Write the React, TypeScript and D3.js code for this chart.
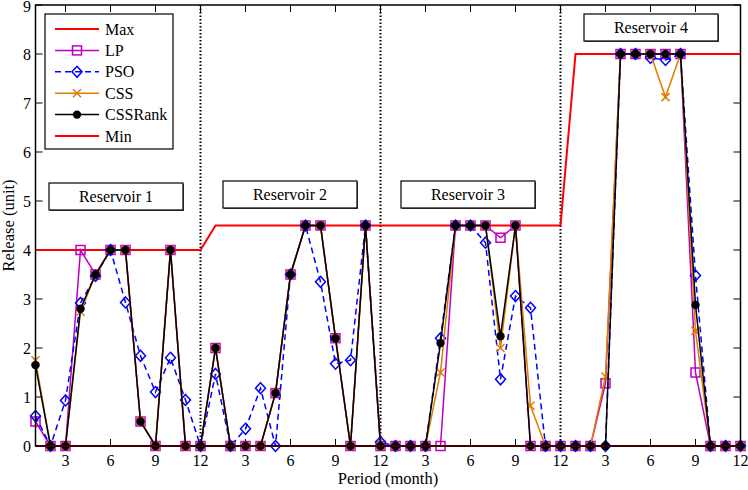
import React from 'react';
import * as d3 from 'd3';

// Four reservoirs x 12 months, plotted end to end
const periods = d3.range(1, 49);
const monthLabels = ['3', '6', '9', '12'];

const maxRelease = [
  4, 4, 4, 4, 4, 4, 4, 4, 4, 4, 4, 4,
  4.5, 4.5, 4.5, 4.5, 4.5, 4.5, 4.5, 4.5, 4.5, 4.5, 4.5, 4.5,
  4.5, 4.5, 4.5, 4.5, 4.5, 4.5, 4.5, 4.5, 4.5, 4.5, 4.5, 4.5,
  8, 8, 8, 8, 8, 8, 8, 8, 8, 8, 8, 8,
];
const minRelease = periods.map(() => 0);

const lp = [
  0.5, 0, 0, 4, 3.5, 4, 4, 0.5, 0, 4, 0, 0,
  2, 0, 0, 0, 1.08, 3.5, 4.5, 4.5, 2.2, 0, 4.5, 0,
  0, 0, 0, 0, 4.5, 4.5, 4.5, 4.25, 4.5, 0, 0, 0,
  0, 0, 1.28, 8, 8, 8, 8, 8, 1.5, 0, 0, 0,
];
const pso = [
  0.61, 0, 0.93, 2.92, 3.47, 4, 2.93, 1.84, 1.1, 1.8, 0.94, 0,
  1.47, 0, 0.35, 1.18, 0, 3.5, 4.5, 3.35, 1.68, 1.75, 4.5, 0.08,
  0, 0, 0, 2.2, 4.5, 4.5, 4.15, 1.36, 3.06, 2.82, 0, 0,
  0, 0, 0, 8, 8, 7.92, 7.88, 8, 3.48, 0, 0, 0,
];
const css = [
  1.75, 0, 0, 2.74, 3.5, 4, 4, 0.52, 0, 4, 0, 0,
  2, 0, 0, 0, 1.08, 3.5, 4.5, 4.5, 2.2, 0, 4.5, 0,
  0, 0, 0, 1.5, 4.5, 4.5, 4.5, 2.0, 4.5, 0.82, 0, 0,
  0, 0, 1.42, 8, 8, 8, 7.12, 8, 2.35, 0, 0, 0,
];
const cssRank = [
  1.65, 0, 0, 2.8, 3.5, 4, 4, 0.5, 0, 4, 0, 0,
  2, 0, 0, 0, 1.08, 3.5, 4.5, 4.5, 2.2, 0, 4.5, 0,
  0, 0, 0, 2.1, 4.5, 4.5, 4.5, 2.24, 4.5, 0, 0, 0,
  0, 0, 0, 8, 8, 8, 8, 8, 2.88, 0, 0, 0,
];

const reservoirNames = ['Reservoir 1', 'Reservoir 2', 'Reservoir 3', 'Reservoir 4'];
const yTicks = d3.range(0, 10);

const W = 748;
const H = 490;
const FONT = "'Times New Roman', 'Liberation Serif', Tinos, Times, serif";

const x = d3.scaleLinear().domain([1, 48]).range([35.5, 740.5]);
const y = d3.scaleLinear().domain([0, 9]).range([446, 5]);

type Marker = 'none' | 'square' | 'diamond' | 'cross' | 'dot';

interface Series {
  name: string;
  values: number[];
  color: string;
  width: number;
  dash?: string;
  marker: Marker;
}

const series: Series[] = [
  { name: 'Max', values: maxRelease, color: '#ff0000', width: 2, marker: 'none' },
  { name: 'LP', values: lp, color: '#c000c0', width: 1.5, marker: 'square' },
  { name: 'PSO', values: pso, color: '#0000ff', width: 1.5, dash: '6 4', marker: 'diamond' },
  { name: 'CSS', values: css, color: '#e07c00', width: 1.5, marker: 'cross' },
  { name: 'CSSRank', values: cssRank, color: '#000000', width: 1.5, marker: 'dot' },
  { name: 'Min', values: minRelease, color: '#ff0000', width: 2, marker: 'none' },
];

const MarkerShape = ({ type, cx, cy, color }: { type: Marker; cx: number; cy: number; color: string }) => {
  switch (type) {
    case 'square':
      return <rect x={cx - 4.5} y={cy - 4.5} width={9} height={9} fill="none" stroke={color} strokeWidth={1.5} />;
    case 'diamond':
      return (
        <path
          d={`M${cx},${cy - 5.5}L${cx + 5},${cy}L${cx},${cy + 5.5}L${cx - 5},${cy}Z`}
          fill="none"
          stroke={color}
          strokeWidth={1.5}
        />
      );
    case 'cross':
      return (
        <path
          d={`M${cx - 4},${cy - 4}L${cx + 4},${cy + 4}M${cx - 4},${cy + 4}L${cx + 4},${cy - 4}`}
          stroke={color}
          strokeWidth={1.5}
        />
      );
    case 'dot':
      return <circle cx={cx} cy={cy} r={4.2} fill={color} />;
    default:
      return null;
  }
};

const TextBox = ({ x0, y0, label }: { x0: number; y0: number; label: string }) => (
  <g>
    <rect x={x0 + 1} y={y0 + 1} width={134} height={27} fill="#555" />
    <rect x={x0} y={y0} width={134} height={27} fill="#fff" stroke="#000" strokeWidth={1.2} />
    <text x={x0 + 67} y={y0 + 19} textAnchor="middle" fontSize={16}>
      {label}
    </text>
  </g>
);

export default function App() {
  const line = d3
    .line<number>()
    .x((_, i) => x(periods[i]))
    .y((d) => y(d));

  const xTicks = d3.range(3, 49, 3);
  const [x0, x1] = x.range();
  const [y0, y1] = y.range();

  const boxes = [
    { x0: 49, y0: 183 },
    { x0: 223, y0: 181 },
    { x0: 401, y0: 181 },
    { x0: 584, y0: 14 },
  ];

  return (
    <svg
      width={W}
      height={H}
      style={{ position: 'absolute', left: 0, top: 0, background: '#fff', fontFamily: FONT }}
    >
      {/* plot frame ticks */}
      {xTicks.map((t) => (
        <g key={`xt${t}`} stroke="#000" strokeWidth={1}>
          <line x1={x(t)} x2={x(t)} y1={y0} y2={y0 - 7} />
          <line x1={x(t)} x2={x(t)} y1={y1} y2={y1 + 7} />
        </g>
      ))}
      {yTicks.map((t) => (
        <g key={`yt${t}`} stroke="#000" strokeWidth={1}>
          <line x1={x0} x2={x0 + 7} y1={y(t)} y2={y(t)} />
          <line x1={x1} x2={x1 - 7} y1={y(t)} y2={y(t)} />
        </g>
      ))}

      {/* reservoir separators */}
      {[12, 24, 36].map((p) => (
        <line key={`sep${p}`} x1={x(p)} x2={x(p)} y1={y1} y2={y0} stroke="#000" strokeWidth={2} strokeDasharray="1.5 2" />
      ))}

      {series.map((s) => (
        <g key={s.name}>
          <path d={line(s.values) ?? ''} fill="none" stroke={s.color} strokeWidth={s.width} strokeDasharray={s.dash} />
          {s.marker !== 'none' &&
            s.values.map((v, i) => (
              <MarkerShape key={i} type={s.marker} cx={x(periods[i])} cy={y(v)} color={s.color} />
            ))}
        </g>
      ))}

      <rect x={x0} y={y1} width={x1 - x0} height={y0 - y1} fill="none" stroke="#000" strokeWidth={1.5} />

      {/* tick labels */}
      {xTicks.map((t, i) => (
        <text key={`xl${t}`} x={x(t)} y={466} textAnchor="middle" fontSize={16}>
          {monthLabels[i % 4]}
        </text>
      ))}
      {yTicks.map((t) => (
        <text key={`yl${t}`} x={31} y={Math.max(y(t) + 5.5, 12)} textAnchor="end" fontSize={16}>
          {t}
        </text>
      ))}

      <text x={(x0 + x1) / 2} y={484} textAnchor="middle" fontSize={16.5}>
        Period (month)
      </text>
      <text transform={`translate(14,${(y0 + y1) / 2}) rotate(-90)`} textAnchor="middle" fontSize={16.5}>
        Release (unit)
      </text>

      {boxes.map((b, i) => (
        <TextBox key={reservoirNames[i]} x0={b.x0} y0={b.y0} label={reservoirNames[i]} />
      ))}

      {/* legend */}
      <g>
        <rect x={45} y={14} width={128} height={135} fill="#fff" stroke="#000" strokeWidth={1.2} />
        {series.map((s, i) => {
          const ly = 29 + i * 21.4;
          return (
            <g key={`lg${s.name}`}>
              <line x1={55} x2={99} y1={ly} y2={ly} stroke={s.color} strokeWidth={s.width} strokeDasharray={s.dash} />
              <MarkerShape type={s.marker} cx={77} cy={ly} color={s.color} />
              <text x={105} y={ly + 5.5} fontSize={16}>
                {s.name}
              </text>
            </g>
          );
        })}
      </g>
    </svg>
  );
}
